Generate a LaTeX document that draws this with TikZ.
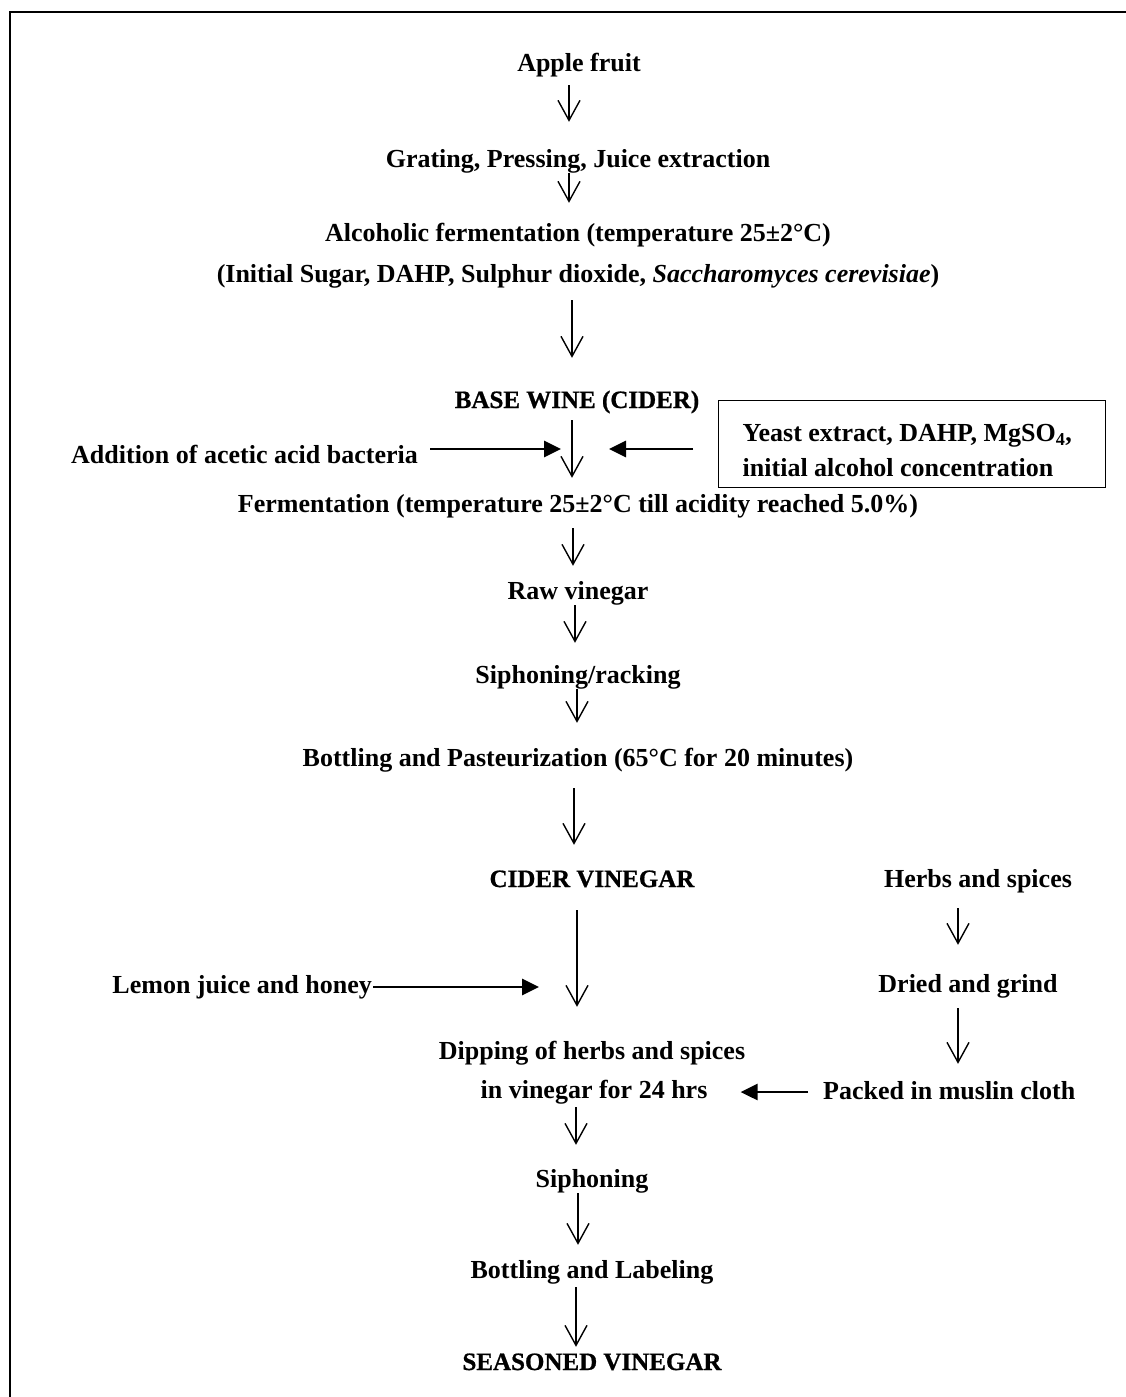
\documentclass[tikz,border=0pt]{standalone}
\usepackage{fontspec}
\setmainfont{Liberation Serif}
\newfontfamily\heavyfont{Liberation Serif Bold}[FakeBold=0.8]
\usepackage{tikz}
\usetikzlibrary{
  arrows.meta,
  positioning,
  calc
}
\tikzset{
  stepnode/.style={
    font=\fontsize{26pt}{40pt}\selectfont\bfseries, inner sep=0pt,
    text height=18pt, text depth=6pt, anchor=base
  },
  headnode/.style={stepnode, font=\fontsize{25pt}{40pt}\selectfont\heavyfont},
  inputbox/.style={
    draw, line width=1.4pt, font=\fontsize{26pt}{40pt}\selectfont\bfseries,
    inner xsep=24pt, inner ysep=0pt, text width=339pt, align=flush left, anchor=north west
  },
  down/.style={-{Straight Barb[length=20pt, width=22pt]}, line width=1.4pt},
  feed/.style={-{Triangle[length=17pt, width=16pt]}, line width=2.8pt},
  frame/.style={line width=1.6pt}
}
\begin{document}
\begin{tikzpicture}[x=1pt, y=-1pt]
  \useasboundingbox (0,0) rectangle (1126,1397);
  \draw[frame] (1126,12) -- (10,12) -- (10,1397);

  \node[stepnode] (apple) at (579,71) {Apple fruit};
  \node[stepnode] (grating) at (578,167) {Grating, Pressing, Juice extraction};
  \node[stepnode] (alc) at (578,241) {Alcoholic fermentation (temperature 25±2°C)};
  \node[stepnode] (alcin) at (578,282) {(Initial Sugar, DAHP, Sulphur dioxide, \textit{Saccharomyces cerevisiae})};
  \node[headnode] (base) at (577,408) {BASE WINE (CIDER)};
  \node[inputbox] (yeast) at (718,400) {\rule{0pt}{41pt}Yeast extract, DAHP, MgSO\textsubscript{4},\\[-5pt]initial alcohol concentration\rule[-11pt]{0pt}{11pt}};
  \node[stepnode, anchor=base east] (addition) at (418,463) {Addition of acetic acid bacteria};
  \node[stepnode] (ferm) at (578,512) {Fermentation (temperature 25±2°C till acidity reached 5.0\%)};
  \node[stepnode] (raw) at (578,599) {Raw vinegar};
  \node[stepnode] (racking) at (578,683) {Siphoning/racking};
  \node[stepnode] (pasteur) at (578,766) {Bottling and Pasteurization (65°C for 20 minutes)};
  \node[headnode] (cider) at (592,887) {CIDER VINEGAR};
  \node[stepnode] (herbs) at (978,887) {Herbs and spices};
  \node[stepnode, anchor=base east] (lemon) at (372,993) {Lemon juice and honey};
  \node[stepnode] (dried) at (968,992) {Dried and grind};
  \node[stepnode] (dip) at (592,1059) {Dipping of herbs and spices};
  \node[stepnode] (dipb) at (594,1098) {in vinegar for 24 hrs};
  \node[stepnode, anchor=base west] (packed) at (823,1099) {Packed in muslin cloth};
  \node[stepnode] (siphon) at (592,1187) {Siphoning};
  \node[stepnode] (labeling) at (592,1278) {Bottling and Labeling};
  \node[headnode] (seasoned) at (592,1370) {SEASONED VINEGAR};

  \coordinate (mix) at (572,449);
  \coordinate (blend) at (577,987);

  \draw[down, shorten <=8pt, shorten >=27pt] ([xshift=-10pt]apple.south) -- ([xshift=-10pt]apple.south |- grating.north);
  \draw[down, shorten >=20pt] ([xshift=-9pt]grating.south) -- ([xshift=-9pt]grating.south |- alc.north);
  \draw[down, shorten <=12pt, shorten >=32pt] ([xshift=-6pt]alcin.south) -- ([xshift=-6pt]alcin.south |- base.north);
  \draw[down, shorten <=6pt, shorten >=16pt] ([xshift=-5pt]base.south) -- ([xshift=-5pt]base.south |- ferm.north);
  \draw[down, shorten <=10pt, shorten >=15pt] ([xshift=-5pt]ferm.south) -- ([xshift=-5pt]ferm.south |- raw.north);
  \draw[down, shorten >=22pt] ([xshift=-3pt]raw.south) -- ([xshift=-3pt]raw.south |- racking.north);
  \draw[down, shorten >=25pt] ([xshift=-1pt]racking.south) -- ([xshift=-1pt]racking.south |- pasteur.north);
  \draw[down, shorten <=16pt, shorten >=24pt] ([xshift=-4pt]pasteur.south) -- ([xshift=-4pt]pasteur.south |- cider.north);
  \draw[down, shorten <=17pt, shorten >=34pt] ([xshift=-15pt]cider.south) -- ([xshift=-15pt]cider.south |- dip.north);
  \draw[down, shorten <=3pt, shorten >=24pt] ([xshift=-18pt]dipb.south) -- ([xshift=-18pt]dipb.south |- siphon.north);
  \draw[down, shorten >=15pt] ([xshift=-14pt]siphon.south) -- ([xshift=-14pt]siphon.south |- labeling.north);
  \draw[down, shorten <=3pt, shorten >=5pt] ([xshift=-16pt]labeling.south) -- ([xshift=-16pt]labeling.south |- seasoned.north);
  \draw[down, shorten <=15pt, shorten >=29pt] ([xshift=-20pt]herbs.south) -- ([xshift=-20pt]herbs.south |- dried.north);
  \draw[down, shorten <=10pt, shorten >=17pt] ([xshift=-10pt]dried.south) -- ([xshift=-10pt]dried.south |- packed.north);

  \draw[feed, shorten <=12pt, shorten >=11pt] (addition.east |- mix) -- (mix);
  \draw[feed, shorten <=25pt, shorten >=37pt] (yeast.west |- mix) -- (mix);
  \draw[feed, shorten <=1pt, shorten >=38pt] (lemon.east |- blend) -- (blend);
  \draw[feed, shorten <=15pt, shorten >=33pt] (packed.west |- dipb.east) -- (dipb.east);
\end{tikzpicture}
\end{document}
